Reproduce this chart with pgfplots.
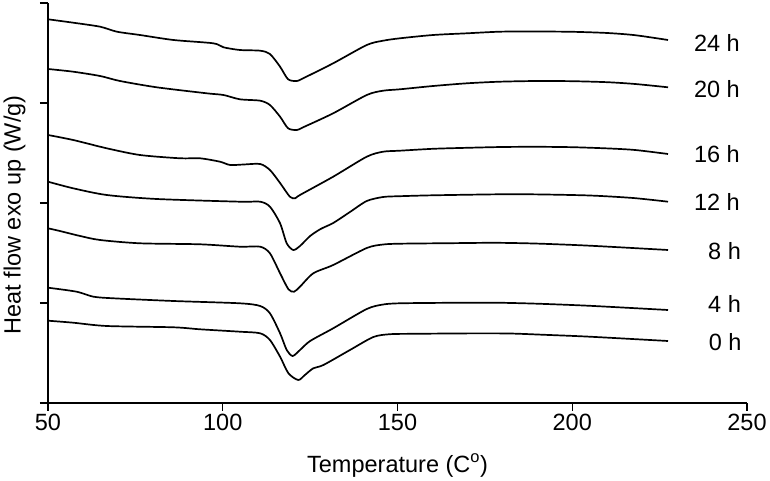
\documentclass[border=0pt]{standalone}
\usepackage{fontspec}
\setmainfont{Liberation Sans}
\usepackage{pgfplots}
\pgfplotsset{compat=1.18}
\begin{document}
\begin{tikzpicture}[font=\fontsize{23.5}{27}\selectfont]
\useasboundingbox (-48pt,-78pt) rectangle (722pt,403pt);
\begin{axis}[
  at={(0pt,0pt)}, anchor=south west,
  scale only axis, width=699pt, height=400pt,
  xmin=50, xmax=250, ymin=0, ymax=400,
  axis lines=left,
  axis line style={-, line width=1.3pt},
  xtick={50,100,150,200,250},
  ytick={0,100,200,300,400}, yticklabels={},
  tick align=outside, major tick length=8pt,
  tick style={line width=1.3pt, black},
  /pgf/number format/assume math mode=true,
  xticklabel style={anchor=north, inner sep=0pt},
  xticklabel shift=3pt,
  xlabel={Temperature (C\textsuperscript{o})},
  xlabel style={at={(axis description cs:0.5,-0.1725)}, anchor=base, inner sep=0pt},
  ylabel={Heat flow exo up (W/g)},
  ylabel style={at={(axis description cs:-0.032,0.47)}, anchor=south, inner sep=0pt},
  clip=false,
  curve/.style={line width=1.7pt, black, smooth, tension=0.45, no markers},
]
% 24 h
\addplot[curve] coordinates {(50,383.7) (57.2,380.3) (64.9,376.3) (69.7,371.3) (76.3,368) (85.9,363) (97.3,359.7) (100.2,355.7) (104.9,353) (110.7,352.3) (113.5,349) (116.4,336.3) (118.7,323.7) (121.2,322) (123.0,324.7) (131.6,339.7) (141.2,358) (145.9,362.3) (150.7,364.7) (160.2,368) (169.9,369.7) (179.3,371.3) (188.8,371.5) (200,371.2) (210,370) (218,367.8) (227.4,363)};
% 20 h
\addplot[curve] coordinates {(50,334) (57.2,331.3) (64.9,327) (70.6,322) (81.1,315.7) (95.4,309.7) (100.2,308) (104.9,303.7) (110.7,302.3) (113.5,298) (116.4,286.3) (118.7,274.7) (121.2,273) (123.0,275.7) (131.6,289.7) (141.2,308) (145.9,312.3) (150.7,313.7) (160.2,317) (169.9,319.7) (179.3,321.3) (190,322) (200,321.8) (210,320.8) (218,319) (227.4,315.7)};
% 16 h
\addplot[curve] coordinates {(50,268) (57.2,263) (66.8,254.7) (76.3,248) (87.8,244.7) (93.5,244.7) (99.2,241.3) (102.1,238) (106,238.5) (110.7,239) (113.5,233) (116.4,220) (119.2,206.3) (120.7,204.7) (122.1,208) (131.6,226.3) (141.2,246.3) (145.9,251.3) (150.7,252.3) (160.2,254.2) (170,255.2) (180,256) (190,256.2) (200,255.8) (210,254.6) (218,253) (227.4,249)};
% 12 h
\addplot[curve] coordinates {(50,221.3) (57.2,214.7) (66.8,208) (81.1,204) (104.9,201.3) (110.7,201.3) (113.5,196.3) (116.4,179.7) (118.3,159.7) (120.2,153) (122.1,157) (125.0,167) (128,174) (131.6,180) (136.4,191) (141.2,202) (145.9,206) (150.7,206.8) (160.2,207.7) (179.3,208.7) (190,208.6) (205,207.5) (217.4,205) (227.4,201.3)};
% 8 h
\addplot[curve] coordinates {(50,174.7) (53.4,172) (59.2,167) (64.9,163) (76.3,159.7) (93.5,158.7) (104.9,156.3) (110.7,156.3) (113.5,149.7) (116.4,129.7) (118.8,113.7) (120.4,111.3) (122.1,116.3) (125.9,129.7) (131.6,138) (141.2,155) (145.9,158.5) (150.7,159.3) (165,159.8) (178,160.2) (190,159.4) (205,157.3) (227.4,153)};
% 4 h
\addplot[curve] coordinates {(50,115.3) (58.2,111.3) (63.0,106.3) (68.7,104.7) (85.9,102) (104.9,99.7) (110.7,97) (113.5,89.7) (116.4,69.7) (118.3,53) (120.0,47) (122.1,53) (125.0,62) (131.6,74.7) (141.2,94) (145.9,98.5) (150.7,99.7) (165,100.2) (178,100.3) (190,99.3) (205,97.2) (227.4,93)};
% 0 h
\addplot[curve] coordinates {(50,82.3) (57.2,80.3) (66.8,77) (85.9,75.7) (93.5,73.7) (104.9,71.3) (110.7,69.7) (113.5,63) (116.4,46.3) (118.8,29.7) (121.6,23) (123.5,28) (125.9,34.7) (128.8,38) (136.4,53) (143.1,66) (147.9,68.8) (155,69.2) (170,69.6) (182,69.5) (192,68.2) (205,66.3) (227.4,62)};
\node[anchor=east, inner sep=0pt] at (axis cs:248,360) {24 h};
\node[anchor=east, inner sep=0pt] at (axis cs:248,313.5) {20 h};
\node[anchor=east, inner sep=0pt] at (axis cs:248,249) {16 h};
\node[anchor=east, inner sep=0pt] at (axis cs:248,201) {12 h};
\node[anchor=east, inner sep=0pt] at (axis cs:248.3,152) {8 h};
\node[anchor=east, inner sep=0pt] at (axis cs:248.3,99) {4 h};
\node[anchor=east, inner sep=0pt] at (axis cs:248.5,61) {0 h};
\end{axis}
\end{tikzpicture}
\end{document}
